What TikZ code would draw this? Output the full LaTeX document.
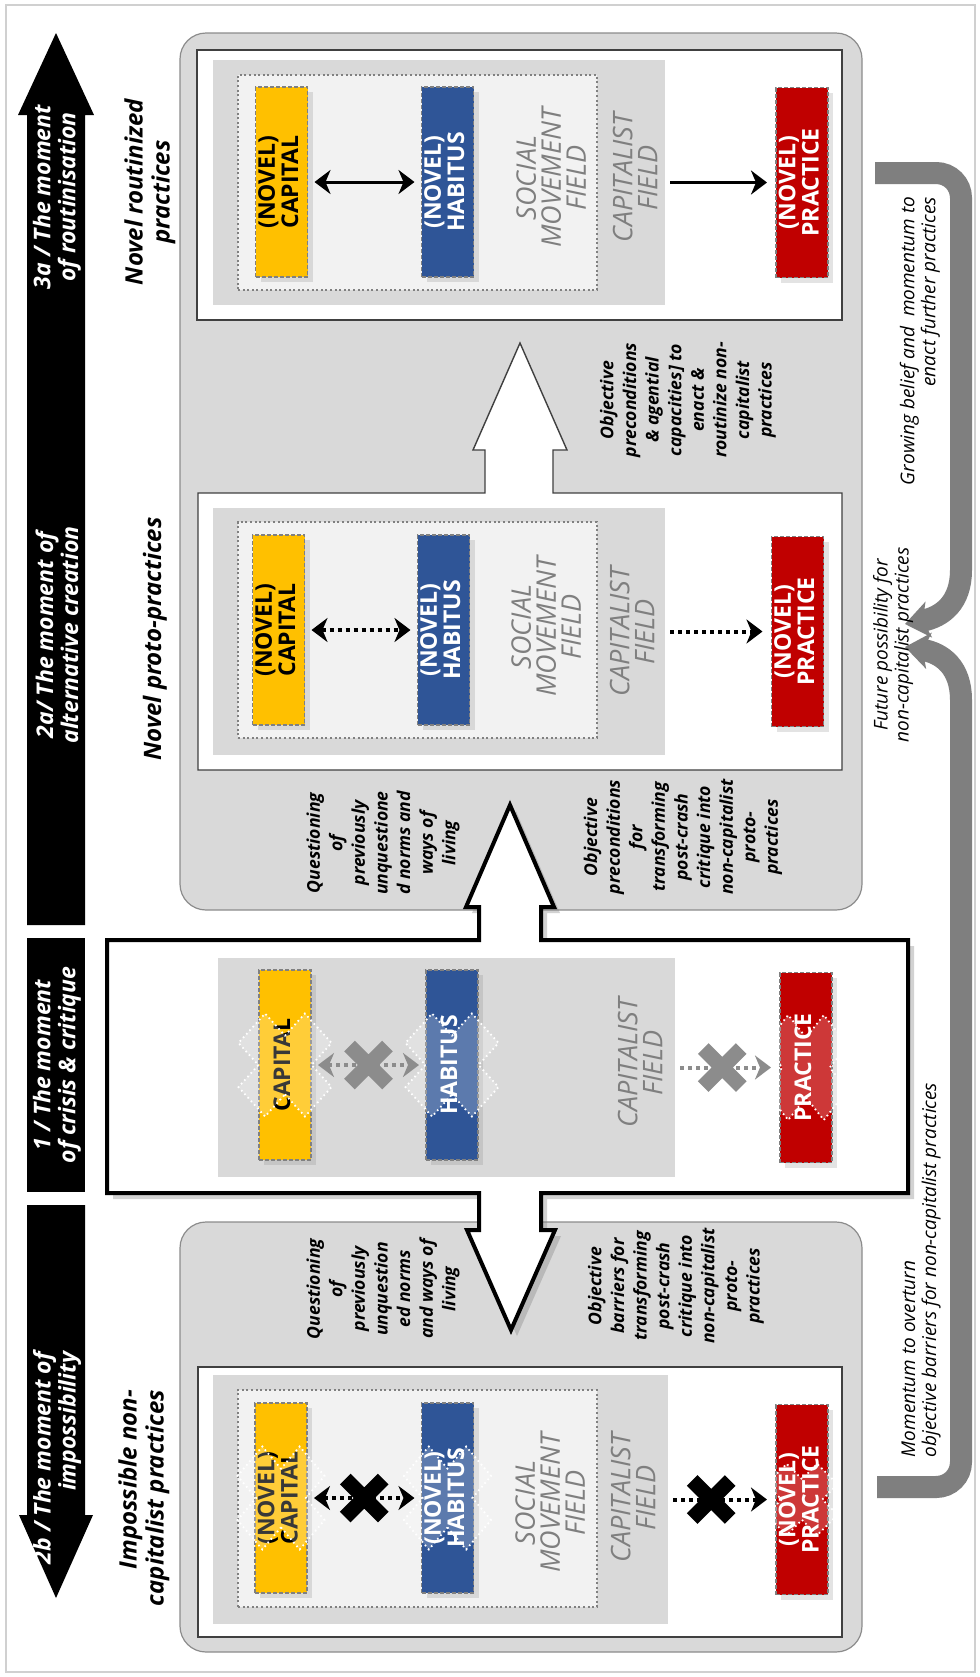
\documentclass[tikz,border=0pt]{standalone}
\usepackage{fontspec}
\setmainfont{Open Sans}
\usetikzlibrary{arrows.meta,shadows,calc}
\definecolor{capyellow}{HTML}{FFC000}
\definecolor{habblue}{HTML}{2F5597}
\definecolor{pracred}{HTML}{C00000}
\definecolor{panelgrey}{HTML}{D9D9D9}
\definecolor{smfill}{HTML}{F2F2F2}
\definecolor{labelgrey}{HTML}{8C8C8C}
\definecolor{fieldtext}{HTML}{7F7F7F}
\definecolor{loopgrey}{HTML}{7F7F7F}
\definecolor{framegrey}{HTML}{D0D0D0}
% upright text turned to read bottom-to-top inside an unrotated box
\newcommand{\uptext}[1]{\rotatebox{90}{\begin{tabular}{@{}c@{}}#1\end{tabular}}}

\tikzset{
  % dotted white "X" laid over a box that is blocked
  xover/.pic={
    \path[draw=white, line width=0.9pt, dash pattern=on 0.8pt off 1.6pt, fill=white, fill opacity=0.22]
      (0,0.5657) -- (0.4243,0.9899) -- (0.9899,0.4243) -- (0.5657,0) -- (0.9899,-0.4243)
      -- (0.4243,-0.9899) -- (0,-0.5657) -- (-0.4243,-0.9899) -- (-0.9899,-0.4243)
      -- (-0.5657,0) -- (-0.9899,0.4243) -- (-0.4243,0.9899) -- cycle;
  },
  % solid cross struck over a broken link
  xcross/.pic={
    \draw[line width=7.5pt] (-19,-19) -- (19,19) (-19,19) -- (19,-19);
  }
}

\begin{document}
\begin{tikzpicture}[x=0.5pt, y=-0.5pt,
  every node/.style={inner sep=0pt, outer sep=0pt},
  >={Stealth[length=8pt,width=12pt,inset=2.5pt]},
  panel/.style={fill=panelgrey, draw=black!45, line width=0.6pt, rounded corners=13pt},
  whitebox/.style={fill=white, draw=black!75, line width=0.7pt},
  field/.style={rectangle, fill=panelgrey},
  smfield/.style={rectangle, fill=smfill, draw=black!50, line width=1pt, dash pattern=on 1pt off 1.3pt},
  fieldtxt/.style={rotate=90, align=center, text=fieldtext, font=\fontsize{13.5}{12.5}\selectfont\itshape},
  agent/.style={rectangle, minimum width=26pt, minimum height=95pt, draw=black!50, line width=0.8pt,
    dash pattern=on 2pt off 1pt, drop shadow={opacity=0.22, shadow xshift=2.5pt, shadow yshift=-2.5pt},
    font=\fontsize{11.5}{11}\selectfont\bfseries},
  capbox/.style={agent, fill=capyellow, text=black},
  habbox/.style={agent, fill=habblue, text=white},
  pracbox/.style={agent, fill=pracred, text=white},
  solidarr/.style={line width=1.5pt},
  dotarr/.style={line width=2pt, dash pattern=on 2pt off 2pt},
  bandtxt/.style={rotate=90, align=center, text=white, font=\fontsize{11.5}{12.5}\selectfont\bfseries\itshape},
  headtxt/.style={rotate=90, align=center, font=\fontsize{12}{13.5}\selectfont\bfseries\itshape},
  notetxt/.style={rotate=90, align=center, font=\fontsize{8.8}{11.3}\selectfont\bfseries\itshape},
  looptxt/.style={rotate=90, font=\fontsize{9.5}{10.5}\selectfont\itshape},
  loopband/.style={draw=loopgrey, line width=11pt, -{Stealth[length=12pt,width=18pt,inset=3pt]}},
]

\fill[white] (0,0) rectangle (980,1677);
\useasboundingbox (0,0) rectangle (980,1677);
\draw[framegrey, line width=0.8pt] (6,5) rectangle (975,1672);

% ---- time axis on the left ----
\fill (27,925) -- (27,115) -- (18,115) -- (56,33) -- (94,115) -- (85,115) -- (85,925) -- cycle;
\fill (27,938) rectangle (85,1192);
\fill (27,1205) -- (27,1515) -- (19,1515) -- (56,1598) -- (93,1515) -- (85,1515) -- (85,1205) -- cycle;
\node[bandtxt] (t3a) at (57,197) {3a / The moment\\of routinisation};
\node[bandtxt] (t2a) at (57,635) {2a/ The moment of\\alternative creation};
\node[bandtxt] (t1) at (57,1065) {1 / The moment\\of crisis \& critique};
\node[bandtxt, anchor=east, align=right] (t2b) at (57,1352) {2b / The moment of\\impossibility};

% ---- stage headings ----
\node[headtxt] (hd3a) at (150,192) {Novel routinized\\practices};
\node[headtxt] (hd2a) at (155,639) {Novel proto-practices};
\node[headtxt] (hd1) at (145,1067) {Destabilised\\capitalist practices};
\node[headtxt, anchor=east, align=right] (hd2b) at (144,1390) {Impossible non-\\capitalist practices};

% ---- grey panels ----
\draw[panel] (180,33) rectangle (862,910);
\draw[panel] (180,1222) rectangle (862,1652);

% ---- white stage boxes ----
\draw[whitebox] (197,50) rectangle (842,320);
\draw[whitebox] (198,493) -- (485,493) -- (485,450) -- (473,450) -- (520,343) -- (567,450)
  -- (553,450) -- (553,493) -- (842,493) -- (842,770) -- (198,770) -- cycle;
\draw[whitebox] (198,1367) rectangle (842,1637);

% ---- crisis box with its two arrows ----
\draw[line width=2pt, fill=white, line join=miter,
  drop shadow={opacity=0.35, shadow xshift=3pt, shadow yshift=-3pt}]
  (107,940) -- (479,940) -- (479,907) -- (466,907) -- (510,805) -- (554,907) -- (541,907)
  -- (541,940) -- (908,940) -- (908,1193) -- (541,1193) -- (541,1230) -- (555,1230)
  -- (511,1330) -- (467,1230) -- (479,1230) -- (479,1193) -- (107,1193) -- cycle;

% ---- stage 3a ----
\node[field, minimum width=226pt, minimum height=122.5pt] (cf3) at (439,182.5) {};
\node[smfield, minimum width=179.5pt, minimum height=107.5pt] (sm3) at (417.5,182.5) {};
\node[fieldtxt] (sml3) at (551,178) {SOCIAL\\MOVEMENT\\FIELD};
\node[fieldtxt] (cfl3) at (635,178) {CAPITALIST\\FIELD};
\node[capbox] (c3) at (281.5,182) {\uptext{(NOVEL)\\CAPITAL}};
\node[habbox] (h3) at (447.5,182) {\uptext{(NOVEL)\\HABITUS}};
\node[pracbox] (p3) at (802,182.5) {\uptext{(NOVEL)\\PRACTICE}};
\draw[solidarr, <->, shorten <=3.5pt, shorten >=3.5pt] (c3.east) -- (h3.west);
\draw[solidarr, ->, shorten <=2.5pt, shorten >=4.5pt] (cf3.east) -- (p3.west);

% ---- stage 2a ----
\node[field, minimum width=226pt, minimum height=123.5pt] (cf2a) at (439,631.5) {};
\node[smfield, minimum width=179.5pt, minimum height=108pt] (sm2a) at (417.5,630) {};
\node[fieldtxt] (sml2a) at (546,627) {SOCIAL\\MOVEMENT\\FIELD};
\node[fieldtxt] (cfl2a) at (632,632) {CAPITALIST\\FIELD};
\node[capbox] (c2a) at (278.5,630) {\uptext{(NOVEL)\\CAPITAL}};
\node[habbox] (h2a) at (443.5,630) {\uptext{(NOVEL)\\HABITUS}};
\node[pracbox] (p2a) at (797.5,631.5) {\uptext{(NOVEL)\\PRACTICE}};
\draw[dotarr, <->, shorten <=3.5pt, shorten >=3.5pt] (c2a.east) -- (h2a.west);
\draw[dotarr, ->, shorten <=2.5pt, shorten >=4.5pt] (cf2a.east) -- (p2a.west);

% ---- stage 1 ----
\node[field, minimum width=228.5pt, minimum height=109.5pt] (cf1) at (446.5,1067.5) {};
\node[fieldtxt] (cfl1) at (640,1063) {CAPITALIST\\FIELD};
\node[capbox] (c1) at (285,1065) {\uptext{CAPITAL}};
\node[habbox] (h1) at (452,1065) {\uptext{HABITUS}};
\node[pracbox] (p1) at (806,1067.5) {\uptext{PRACTICE}};
\draw[dotarr, labelgrey, <->, shorten <=3.5pt, shorten >=3.5pt] (c1.east) -- (h1.west);
\draw[dotarr, labelgrey, ->, shorten <=2.5pt, shorten >=4.5pt] (cf1.east) -- (p1.west);
\pic[color=labelgrey] at ($(c1.east)!0.5!(h1.west)$) {xcross};
\pic[color=labelgrey] at ($(cf1.east)!0.45!(p1.west)$) {xcross};
\pic[xscale=47, yscale=52] at (c1) {xover};
\pic[xscale=47, yscale=52] at (h1) {xover};
\pic[xscale=42, yscale=53] at (p1) {xover};

% ---- stage 2b ----
\node[field, minimum width=227.5pt, minimum height=124.5pt] (cf2b) at (440.5,1499.5) {};
\node[smfield, minimum width=179.5pt, minimum height=108.5pt] (sm2b) at (417.5,1498.5) {};
\node[fieldtxt] (sml2b) at (550,1503) {SOCIAL\\MOVEMENT\\FIELD};
\node[fieldtxt] (cfl2b) at (633,1498) {CAPITALIST\\FIELD};
\node[capbox] (c2b) at (281,1498) {\uptext{(NOVEL)\\CAPITAL}};
\node[habbox] (h2b) at (447.5,1498) {\uptext{(NOVEL)\\HABITUS}};
\node[pracbox] (p2b) at (802,1499.5) {\uptext{(NOVEL)\\PRACTICE}};
\draw[dotarr, <->, shorten <=3.5pt, shorten >=3.5pt] (c2b.east) -- (h2b.west);
\draw[dotarr, ->, shorten <=2.5pt, shorten >=4.5pt] (cf2b.east) -- (p2b.west);
\pic[color=black] at ($(c2b.east)!0.5!(h2b.west)$) {xcross};
\pic[color=black] at ($(cf2b.east)!0.4!(p2b.west)$) {xcross};
\pic[xscale=44, yscale=52] at (c2b) {xover};
\pic[xscale=44, yscale=52] at (h2b) {xover};
\pic[xscale=36, yscale=36] at (p2b) {xover};

% ---- conditions between the stages ----
\node[notetxt] (o3a) at (688,400) {Objective\\preconditions\\\& agential\\capacities] to\\enact \&\\routinize non-\\capitalist\\practices};
\node[notetxt] (q2a) at (383,843) {Questioning\\of\\previously\\unquestione\\d norms and\\ways of\\living};
\node[notetxt] (o2a) at (683,837) {Objective\\preconditions\\for\\transforming\\post-crash\\critique into\\non-capitalist\\proto-\\practices};
\node[notetxt] (q2b) at (383,1289) {Questioning\\of\\previously\\unquestion\\ed norms\\and ways of\\living};
\node[notetxt] (o2b) at (676,1286) {Objective\\barriers for\\transforming\\post-crash\\critique into\\non-capitalist\\proto-\\practices};

% ---- feedback loops on the right ----
\coordinate (ustart) at (875,173);
\coordinate (uend) at (905,624);
\coordinate (lstart) at (877,1487);
\coordinate (lend) at (905,647);
\draw[loopband] (ustart) -- (936,173) .. controls (950,173) and (961,184) .. (961,198)
  -- (961,570) .. controls (961,602) and (943,617) .. (uend);
\draw[loopband] (lstart) -- (936,1487) .. controls (950,1487) and (961,1476) .. (961,1462)
  -- (961,700) .. controls (961,668) and (943,653) .. (lend);
\node[looptxt, anchor=east, align=right] (grow) at (920,197) {Growing belief and\ \ momentum to\\enact further practices};
\node[looptxt, align=center] (fut) at (893,645) {Future possibility for\\non-capitalist practices};
\node[looptxt, anchor=west, align=left] (mom) at (921,1457) {Momentum to overturn\\objective barriers for non-capitalist practices};

\end{tikzpicture}
\end{document}
